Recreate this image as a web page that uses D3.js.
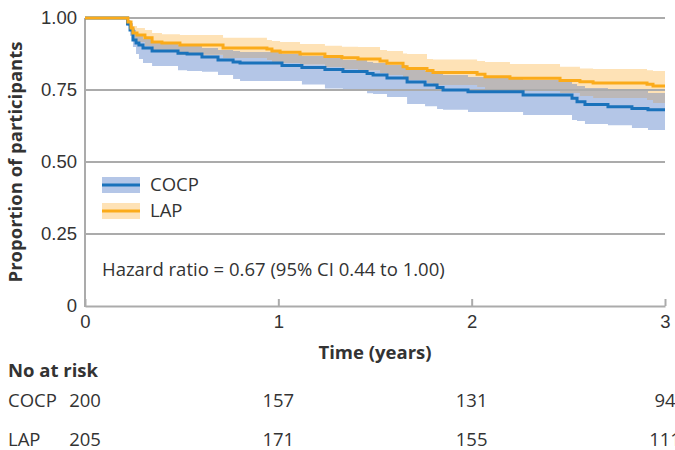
<!DOCTYPE html>
<html>
<head>
<meta charset="utf-8">
<script src="https://cdn.jsdelivr.net/npm/d3@7"></script>
<style>
  body{margin:0;background:#fff;}
  svg{display:block;font-family:"Open Sans",Roboto,sans-serif;}
</style>
</head>
<body>
<div id="chart"></div>
<script>
// Kaplan-Meier style step data (time in years)
var cocpTimes = [0,0.22,0.233,0.248,0.264,0.279,0.300,0.347,0.481,0.528,0.605,0.688,0.766,0.802,1.019,1.122,1.241,1.334,1.459,1.490,1.562,1.666,1.759,1.821,1.852,1.981,2.266,2.519,2.545,2.586,2.705,2.829,2.912];
var cocpSurv  = [1,0.979,0.958,0.924,0.913,0.906,0.896,0.885,0.878,0.875,0.865,0.854,0.847,0.844,0.835,0.828,0.821,0.814,0.807,0.802,0.792,0.778,0.767,0.759,0.750,0.744,0.733,0.721,0.709,0.700,0.692,0.686,0.681];
var cocpLower = [1,0.972,0.938,0.899,0.875,0.858,0.844,0.833,0.819,0.816,0.813,0.802,0.788,0.781,0.781,0.769,0.755,0.750,0.739,0.736,0.726,0.701,0.694,0.684,0.681,0.674,0.663,0.646,0.642,0.632,0.628,0.618,0.611];
var cocpUpper = [1,0.993,0.983,0.958,0.944,0.938,0.927,0.917,0.906,0.903,0.896,0.889,0.885,0.882,0.875,0.868,0.861,0.854,0.847,0.844,0.837,0.826,0.816,0.809,0.802,0.795,0.785,0.771,0.764,0.757,0.750,0.747,0.740];

var lapTimes = [0,0.222,0.238,0.248,0.269,0.310,0.347,0.398,0.491,0.714,0.941,0.967,1.009,1.112,1.241,1.329,1.412,1.526,1.562,1.645,1.666,1.769,1.800,2.028,2.069,2.198,2.457,2.560,2.628,2.907,2.938];
var lapSurv  = [1,0.986,0.965,0.948,0.941,0.931,0.917,0.913,0.906,0.896,0.892,0.885,0.881,0.875,0.866,0.862,0.858,0.851,0.843,0.831,0.825,0.818,0.811,0.805,0.796,0.791,0.783,0.779,0.774,0.770,0.764];
var lapLower = [1,0.976,0.948,0.927,0.917,0.903,0.889,0.882,0.872,0.861,0.854,0.847,0.844,0.839,0.830,0.823,0.819,0.809,0.802,0.788,0.785,0.774,0.767,0.760,0.753,0.747,0.740,0.729,0.722,0.715,0.705];
var lapUpper = [1,0.993,0.979,0.972,0.965,0.958,0.948,0.944,0.941,0.931,0.924,0.920,0.917,0.910,0.904,0.900,0.899,0.889,0.885,0.877,0.875,0.858,0.856,0.851,0.847,0.840,0.831,0.825,0.823,0.819,0.816];

var groups = ["COCP","LAP"];
var yTicks = [0,0.25,0.5,0.75,1];
var xTicks = [0,1,2,3];
var riskTimes = [0,1,2,3];
var riskCocp = [200,157,131,94];
var riskLap = [205,171,155,111];
var hazardText = "Hazard ratio = 0.67 (95% CI 0.44 to 1.00)";

var W = 675, H = 450;
var blue = "#1a72bb", orange = "#fbab1a";
var blueCI = "#b4c6e7", orangeCI = "#fee2b6", bothCI = "#bcb8b8";
var grid = "#ababab", txt = "#333";
var fs = 18.5;

var svg = d3.select("#chart").append("svg").attr("width",W).attr("height",H);

var x = d3.scaleLinear().domain([0,3]).range([85,665]);
var y = d3.scaleLinear().domain([0,1]).range([306,18]);

function rows(times, s, lo, hi){
  var r = times.map(function(t,i){return {t:t,s:s[i],lo:lo[i],hi:hi[i]};});
  var last = r[r.length-1];
  r.push({t:3,s:last.s,lo:last.lo,hi:last.hi});
  return r;
}
var cocp = rows(cocpTimes,cocpSurv,cocpLower,cocpUpper);
var lap = rows(lapTimes,lapSurv,lapLower,lapUpper);

// value of a step function at time t
function at(r,t){
  var v = r[0];
  for(var i=0;i<r.length;i++){ if(r[i].t<=t) v=r[i]; }
  return v;
}
// overlap of the two bands
var allT = d3.sort(Array.from(new Set(cocp.map(function(d){return d.t;}).concat(lap.map(function(d){return d.t;})))));
var both = allT.map(function(t){
  var a = at(cocp,t), b = at(lap,t);
  var lo = Math.max(a.lo,b.lo), hi = Math.min(a.hi,b.hi);
  if(hi<lo) hi = lo;
  return {t:t,lo:lo,hi:hi};
});

var area = d3.area().curve(d3.curveStepAfter)
  .x(function(d){return x(d.t);})
  .y0(function(d){return y(d.lo);})
  .y1(function(d){return y(d.hi);});
var line = d3.line().curve(d3.curveStepAfter)
  .x(function(d){return x(d.t);})
  .y(function(d){return y(d.s);});

svg.append("path").datum(cocp).attr("d",area).attr("fill",blueCI);
svg.append("path").datum(lap).attr("d",area).attr("fill",orangeCI);
svg.append("path").datum(both).attr("d",area).attr("fill",bothCI);

// gridlines
svg.append("g").selectAll("line").data(yTicks.filter(function(d){return d>0;}))
  .enter().append("line")
  .attr("x1",x(0)).attr("x2",x(3))
  .attr("y1",function(d){return y(d);}).attr("y2",function(d){return y(d);})
  .attr("stroke",grid).attr("stroke-width",2);

// axes
var yAxis = svg.append("g").attr("transform","translate("+x(0)+",0)")
  .call(d3.axisLeft(y).tickValues(yTicks).tickSize(0).tickPadding(8)
    .tickFormat(function(d){return d===0?"0":d3.format(".2f")(d);}));
yAxis.select(".domain").remove();
yAxis.selectAll("text").attr("font-size",fs).attr("fill",txt).attr("font-family",null);

var xAxis = svg.append("g").attr("transform","translate(0,"+y(0)+")")
  .call(d3.axisBottom(x).tickValues(xTicks).tickFormat(d3.format("d"))
    .tickSizeInner(-7).tickSizeOuter(0).tickPadding(9));
xAxis.select(".domain").attr("stroke",grid).attr("stroke-width",2);
xAxis.selectAll(".tick line").attr("stroke",grid).attr("stroke-width",2);
xAxis.selectAll("text").attr("font-size",fs).attr("fill",txt).attr("font-family",null);

svg.append("line").attr("x1",x(0)).attr("x2",x(0)).attr("y1",y(1)).attr("y2",y(0)+1)
  .attr("stroke",grid).attr("stroke-width",2);

// curves
svg.append("path").datum(cocp).attr("d",line).attr("fill","none").attr("stroke",blue).attr("stroke-width",3);
svg.append("path").datum(lap).attr("d",line).attr("fill","none").attr("stroke",orange).attr("stroke-width",3);

// legend
var legend = [{name:groups[0],c:blue,ci:blueCI,y:185},{name:groups[1],c:orange,ci:orangeCI,y:211}];
var lg = svg.append("g").selectAll("g").data(legend).enter().append("g");
lg.append("rect").attr("x",102).attr("y",function(d){return d.y-8;}).attr("width",38).attr("height",16).attr("fill",function(d){return d.ci;});
lg.append("line").attr("x1",102).attr("x2",140).attr("y1",function(d){return d.y;}).attr("y2",function(d){return d.y;})
  .attr("stroke",function(d){return d.c;}).attr("stroke-width",3);
lg.append("text").attr("x",150).attr("y",function(d){return d.y+6;}).attr("font-size",fs).attr("fill",txt).text(function(d){return d.name;});

svg.append("text").attr("x",102).attr("y",276).attr("font-size",fs).attr("fill",txt).text(hazardText);

// titles
svg.append("text").attr("transform","translate(22,"+y(0.5)+") rotate(-90)")
  .attr("text-anchor","middle").attr("font-size",fs).attr("font-weight","bold").attr("fill",txt)
  .text("Proportion of participants");
svg.append("text").attr("x",375).attr("y",359).attr("text-anchor","middle")
  .attr("font-size",fs).attr("font-weight","bold").attr("fill",txt).text("Time (years)");

// number at risk table
svg.append("text").attr("x",8).attr("y",377).attr("font-size",fs).attr("font-weight","bold").attr("fill",txt).text("No at risk");
var risk = [{name:groups[0],v:riskCocp,y:407},{name:groups[1],v:riskLap,y:446}];
risk.forEach(function(r){
  svg.append("text").attr("x",8).attr("y",r.y).attr("font-size",fs).attr("fill",txt).text(r.name);
  svg.append("g").selectAll("text").data(r.v).enter().append("text")
    .attr("x",function(d,i){return x(riskTimes[i]);}).attr("y",r.y)
    .attr("text-anchor","middle").attr("font-size",fs).attr("fill",txt).text(String);
});
</script>
</body>
</html>
